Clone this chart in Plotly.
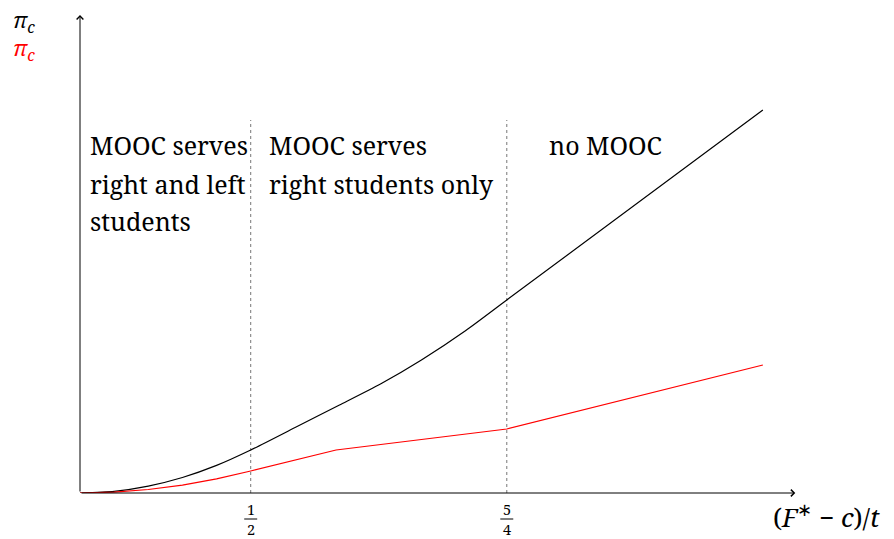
import plotly.graph_objects as go

# ---- data ----
x_black = [0, 0.1, 0.2, 0.3, 0.4, 0.5, 0.63, 0.76, 0.88, 1.0, 1.13, 1.25, 2.0]
y_black = [0, 0.017, 0.069, 0.155, 0.276, 0.43, 0.655, 0.88, 1.09, 1.33, 1.625, 1.93, 3.83]
x_red = [0, 0.1, 0.2, 0.3, 0.4, 0.5, 0.75, 1.25, 2.0]
y_red = [0, 0.009, 0.035, 0.079, 0.141, 0.22, 0.43, 0.64, 1.28]

thresholds = [0.5, 1.25]
threshold_num = ["1", "5"]
threshold_den = ["2", "4"]
divider_top = 3.73

region_lines = [
    ("MOOC serves", 0.023, 3.48, "left"),
    ("right and left", 0.023, 3.09, "left"),
    ("students", 0.023, 2.72, "left"),
    ("MOOC serves", 0.548, 3.48, "left"),
    ("right students only", 0.548, 3.09, "left"),
    ("no MOOC", 1.538, 3.48, "center"),
]

x_max = 2.095
y_max = 4.78
FONT = "Noto Serif"
PAGE_OFFSET = 8  # default body margin of the html page

fig = go.Figure()

# dotted dividers
for xt in thresholds:
    fig.add_trace(go.Scatter(x=[xt, xt], y=[0, divider_top], mode="lines",
                             line=dict(color="#777777", width=1, dash="dot"),
                             hoverinfo="skip", showlegend=False, cliponaxis=False))

fig.add_trace(go.Scatter(x=x_black, y=y_black, mode="lines",
                         line=dict(color="black", width=1.2, shape="spline", smoothing=0.6),
                         showlegend=False, cliponaxis=False))
fig.add_trace(go.Scatter(x=x_red, y=y_red, mode="lines",
                         line=dict(color="red", width=1.2),
                         showlegend=False, cliponaxis=False))

shapes = []
for xt in thresholds:
    shapes.append(dict(type="line", xref="x", yref="paper",
                       x0=xt - 0.019, x1=xt + 0.019, y0=-0.0544, y1=-0.0544,
                       line=dict(color="black", width=1)))

annotations = []
# axes with arrows
annotations.append(dict(x=x_max, y=0, ax=0, ay=0, xref="x", yref="y", axref="x", ayref="y",
                        text="", showarrow=True, arrowhead=4, arrowsize=1.3,
                        arrowwidth=1, arrowcolor="black", standoff=0, startstandoff=0))
annotations.append(dict(x=0, y=y_max, ax=0, ay=0, xref="x", yref="y", axref="x", ayref="y",
                        text="", showarrow=True, arrowhead=4, arrowsize=1.3,
                        arrowwidth=1, arrowcolor="black", standoff=0, startstandoff=0))

# fraction tick labels (numerator over denominator, bar drawn as a shape)
for xt, n, d in zip(thresholds, threshold_num, threshold_den):
    annotations.append(dict(x=xt, y=-0.0335, xref="x", yref="paper", text=n, showarrow=False,
                            font=dict(family=FONT, size=14.5, color="black"), borderpad=0,
                            xanchor="center", yanchor="middle"))
    annotations.append(dict(x=xt, y=-0.0753, xref="x", yref="paper", text=d, showarrow=False,
                            font=dict(family=FONT, size=14.5, color="black"), borderpad=0,
                            xanchor="center", yanchor="middle"))

for txt, xx, yy, al in region_lines:
    annotations.append(dict(x=xx, y=yy, xref="x", yref="y", text=txt, showarrow=False,
                            font=dict(family=FONT, size=25, color="black"),
                            xanchor=al, yanchor="middle"))

# axis labels
annotations.append(dict(x=1.041, y=-0.048, xref="paper", yref="paper",
                        text="(<i>F</i><sup>∗</sup> − <i>c</i>)/<i>t</i>", showarrow=False,
                        font=dict(family=FONT, size=26, color="black"),
                        xanchor="center", yanchor="middle"))
annotations.append(dict(x=-0.078, y=4.72, xref="paper", yref="y",
                        text="<i>π</i><sub><i>c</i></sub>", showarrow=False,
                        font=dict(family=FONT, size=22, color="black"), borderpad=0,
                        xanchor="center", yanchor="middle"))
annotations.append(dict(x=-0.078, y=4.44, xref="paper", yref="y",
                        text="<i>π</i><sub><i>c</i></sub>", showarrow=False,
                        font=dict(family=FONT, size=22, color="red"), borderpad=0,
                        xanchor="center", yanchor="middle"))

fig.update_layout(
    width=894 - PAGE_OFFSET, height=539 - PAGE_OFFSET,
    margin=dict(l=80 - PAGE_OFFSET, r=97, t=15 - PAGE_OFFSET, b=46),
    plot_bgcolor="white", paper_bgcolor="white",
    xaxis=dict(range=[0, 2.1], showgrid=False, zeroline=False, showline=False,
               showticklabels=False, ticks=""),
    yaxis=dict(range=[0, y_max], showgrid=False, zeroline=False, showline=False,
               showticklabels=False, ticks=""),
    annotations=annotations,
    shapes=shapes,
    showlegend=False,
)

fig.write_html("out.html")
